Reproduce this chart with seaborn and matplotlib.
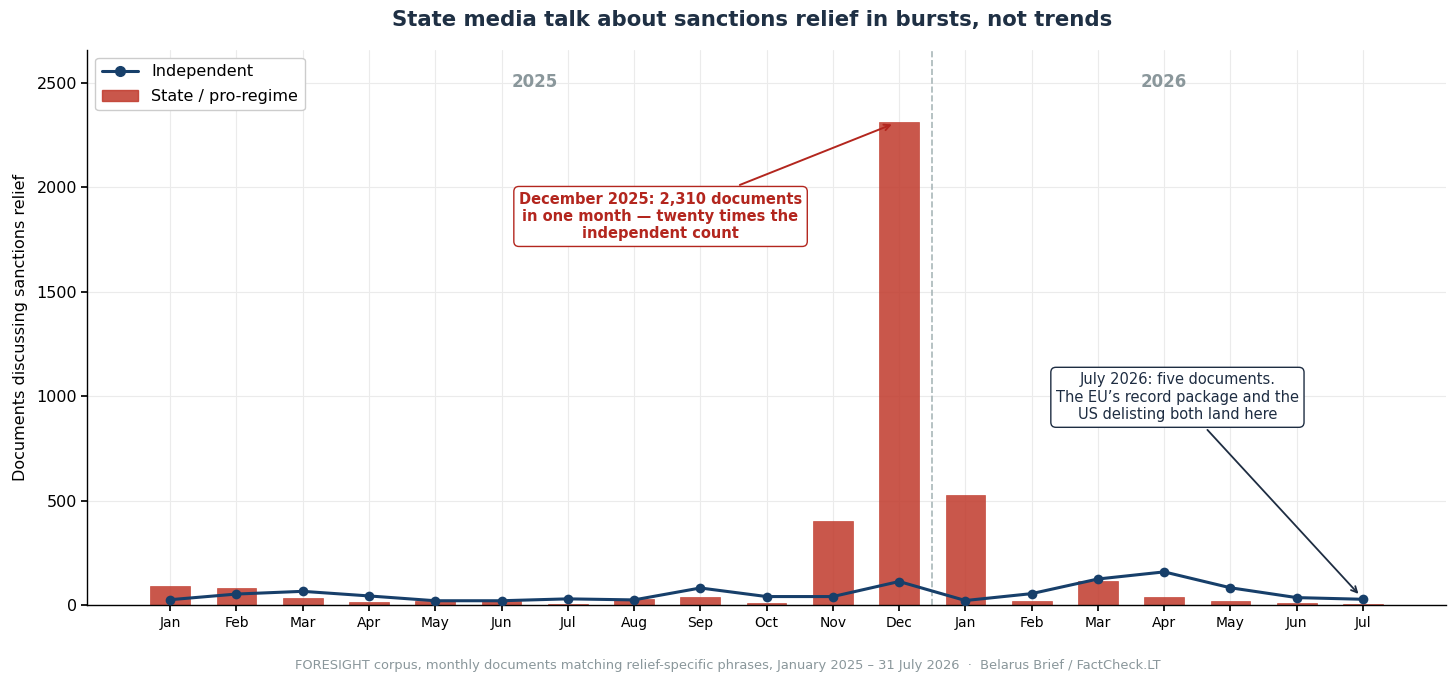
import numpy as np
import pandas as pd
import seaborn as sns
import matplotlib.pyplot as plt
from matplotlib.patches import Patch
from matplotlib.lines import Line2D

sns.set_theme(style="whitegrid")
plt.rcParams['font.family'] = ['DejaVu Sans']

# %% data
periods = ["2025-01", "2025-02", "2025-03", "2025-04", "2025-05", "2025-06",
           "2025-07", "2025-08", "2025-09", "2025-10", "2025-11", "2025-12",
           "2026-01", "2026-02", "2026-03", "2026-04", "2026-05", "2026-06",
           "2026-07"]
month_labels = ["Jan", "Feb", "Mar", "Apr", "May", "Jun", "Jul", "Aug", "Sep",
                "Oct", "Nov", "Dec", "Jan", "Feb", "Mar", "Apr", "May", "Jun",
                "Jul"]
state_docs = [93, 83, 36, 17, 22, 21, 6, 30, 41, 11, 405, 2310,
              530, 21, 118, 38, 21, 12, 5]
independent_docs = [27, 54, 67, 45, 22, 22, 31, 26, 83, 42, 42, 114,
                    23, 56, 126, 160, 84, 37, 29]

BAR_RED = "#c0392b"
LINE_BLUE = "#173f6a"
NAVY = "#1e2d42"
ANNOT_RED = "#b3261e"
YEAR_GREY = "#8a979b"

df = pd.DataFrame({
    "period": periods,
    "pos": np.arange(len(periods)),
    "state": state_docs,
    "independent": independent_docs,
})

# %% plot
fig, ax = plt.subplots(figsize=(14.56, 6.84), dpi=100)
fig.subplots_adjust(left=0.06, right=0.993, top=0.927, bottom=0.115)

sns.barplot(data=df, x="period", y="state", color=BAR_RED, alpha=0.85,
            saturation=1, width=0.6, edgecolor=BAR_RED, linewidth=0.5,
            ax=ax, zorder=2)
sns.lineplot(data=df, x="pos", y="independent", color=LINE_BLUE, lw=2.2,
             marker="o", markersize=7, markeredgewidth=0, ax=ax, zorder=3)

ax.set_xlim(-1.25, len(periods) - 1 + 1.25)
ax.set_ylim(0, max(state_docs) * 1.15)
ax.set_xticks(df["pos"])
ax.set_xticklabels(month_labels, fontsize=10)
ax.set_yticks([0, 500, 1000, 1500, 2000, 2500])
ax.tick_params(axis="y", labelsize=11.5, left=True, length=4,
               colors="black")
ax.tick_params(axis="x", bottom=True, length=4, colors="black")
ax.set_xlabel("")
ax.set_ylabel("Documents discussing sanctions relief", fontsize=11.5,
              color="black", labelpad=6)
ax.grid(True, color="#ebebeb", lw=0.8)
ax.set_facecolor("white")
for side in ["top", "right"]:
    ax.spines[side].set_visible(False)
for side in ["left", "bottom"]:
    ax.spines[side].set_color("black")
    ax.spines[side].set_linewidth(1.0)

# year split
ax.axvline(11.5, color="#a9b7b9", ls="--", lw=1.2, zorder=1)
ax.text(5.5, 2505, "2025", ha="center", va="center", fontsize=12,
        fontweight="bold", color=YEAR_GREY)
ax.text(15.0, 2505, "2026", ha="center", va="center", fontsize=12,
        fontweight="bold", color=YEAR_GREY)

# annotations
ax.annotate("December 2025: 2,310 documents\nin one month \u2014 twenty times the\nindependent count",
            xy=(10.93, 2305), xytext=(7.4, 1860), ha="center", va="center",
            fontsize=10.5, fontweight="bold", color=ANNOT_RED,
            bbox=dict(boxstyle="round,pad=0.35", fc="white", ec=ANNOT_RED, lw=1),
            arrowprops=dict(arrowstyle="->", color=ANNOT_RED, lw=1.4),
            zorder=5)
ax.annotate("July 2026: five documents.\nThe EU\u2019s record package and the\nUS delisting both land here",
            xy=(17.96, 45), xytext=(15.2, 995), ha="center", va="center",
            fontsize=10.5, color=NAVY,
            bbox=dict(boxstyle="round,pad=0.35", fc="white", ec=NAVY, lw=1),
            arrowprops=dict(arrowstyle="->", color=NAVY, lw=1.3),
            zorder=5)

handles = [Line2D([0], [0], color=LINE_BLUE, lw=2.2, marker="o", markersize=7),
           Patch(facecolor=BAR_RED, alpha=0.85, edgecolor=BAR_RED)]
leg = ax.legend(handles, ["Independent", "State / pro-regime"], loc="upper left",
                fontsize=11.5, frameon=True, facecolor="white",
                edgecolor="#cccccc", framealpha=1, handlelength=2.3,
                labelspacing=0.6)
for t in leg.get_texts():
    t.set_color("black")

fig.suptitle("State media talk about sanctions relief in bursts, not trends",
             fontsize=15.3, fontweight="bold", color="#1f3044",
             x=0.5165, y=0.985)
fig.text(0.5, 0.027,
         "FORESIGHT corpus, monthly documents matching relief-specific phrases, "
         "January 2025 \u2013 31 July 2026  \u00b7  Belarus Brief / FactCheck.LT",
         ha="center", va="center", fontsize=9.4, color="#8a979b")

fig.savefig("out.png", dpi=100)
